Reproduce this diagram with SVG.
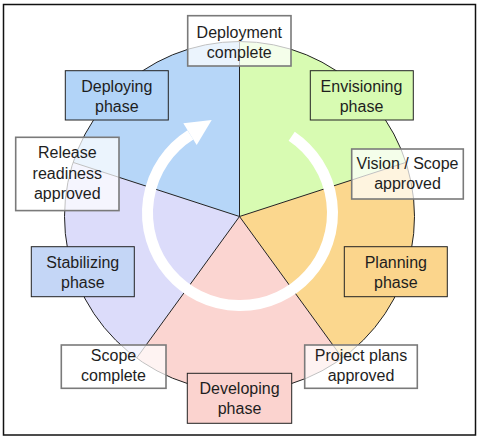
<svg xmlns="http://www.w3.org/2000/svg" width="479" height="439" viewBox="0 0 479 439">
<style>
  .sector { stroke: none; }
  .divider { stroke: #222; stroke-width: 1; fill: none; }
  .rim { stroke: #222; stroke-width: 1; fill: none; }
  .phase { stroke: #222; stroke-width: 1; }
  .milestone { fill: #ffffff; fill-opacity: 0.72; stroke: #7a7a7a; stroke-width: 1.6; }
  text { font-family: "Liberation Sans", Arial, sans-serif; font-size: 16px; fill: #1e1e1e; text-anchor: middle; }
</style>
<rect x="0" y="0" width="479" height="439" fill="#ffffff"/>
<rect x="3.5" y="4.5" width="472" height="430.5" fill="#ffffff" stroke="#111" stroke-width="1.5"/>

<g id="wheel">
  <path class="sector" fill="#d8fbb2" d="M239.5,216.5 L239.5,41.5 A175,175 0 0 1 405.9,162.4 Z"/>
  <path class="sector" fill="#fbd78e" d="M239.5,216.5 L405.9,162.4 A175,175 0 0 1 342.4,358.1 Z"/>
  <path class="sector" fill="#fbd5d1" d="M239.5,216.5 L342.4,358.1 A175,175 0 0 1 136.6,358.1 Z"/>
  <path class="sector" fill="#dcdcfa" d="M239.5,216.5 L136.6,358.1 A175,175 0 0 1 73.1,162.4 Z"/>
  <path class="sector" fill="#b6d6f8" d="M239.5,216.5 L73.1,162.4 A175,175 0 0 1 239.5,41.5 Z"/>
  <circle class="rim" cx="239.5" cy="216.5" r="175"/>
  <path class="divider" d="M239.5,216.5 L239.5,41.5 M239.5,216.5 L405.9,162.4 M239.5,216.5 L342.4,358.1 M239.5,216.5 L136.6,358.1 M239.5,216.5 L73.1,162.4"/>
</g>

<g id="connectors">
  <path d="M291.7,136.3 A92.5,92.5 0 1 1 190.4,134.9" fill="none" stroke="#ffffff" stroke-width="11"/>
  <polygon points="183.3,123.3 211.7,120 196.7,145" fill="#ffffff"/>
</g>

<g id="deployment-complete">
  <rect class="milestone" x="187.7" y="15.7" width="103.3" height="50.3"/>
  <text x="239.3" y="37.5">Deployment</text>
  <text x="239.3" y="57.5">complete</text>
</g>
<g id="deploying-phase">
  <rect class="phase" fill="#b2d4f8" x="65.3" y="70.7" width="103" height="49.3"/>
  <text x="116.8" y="91.5">Deploying</text>
  <text x="116.8" y="111.8">phase</text>
</g>
<g id="envisioning-phase">
  <rect class="phase" fill="#d8fbb2" x="310.3" y="70.7" width="103" height="49.3"/>
  <text x="361.5" y="91.5">Envisioning</text>
  <text x="361.5" y="111.8">phase</text>
</g>
<g id="release-readiness-approved">
  <rect class="milestone" x="15.7" y="137.3" width="103.3" height="73.3"/>
  <text x="67.3" y="158">Release</text>
  <text x="67.3" y="179">readiness</text>
  <text x="67.3" y="199">approved</text>
</g>
<g id="vision-scope-approved">
  <rect class="milestone" x="351.7" y="149" width="111.6" height="50"/>
  <text x="407.5" y="169">Vision / Scope</text>
  <text x="407.5" y="189">approved</text>
</g>
<g id="stabilizing-phase">
  <rect class="phase" fill="#c4d6f6" x="31.3" y="246.7" width="103" height="50"/>
  <text x="82.8" y="268">Stabilizing</text>
  <text x="82.8" y="288">phase</text>
</g>
<g id="planning-phase">
  <rect class="phase" fill="#fbd58c" x="344.3" y="246.7" width="103" height="50"/>
  <text x="395.8" y="268">Planning</text>
  <text x="395.8" y="288">phase</text>
</g>
<g id="scope-complete">
  <rect class="milestone" x="61.3" y="345" width="104.7" height="43.3"/>
  <text x="113.5" y="360.8">Scope</text>
  <text x="113.5" y="380.8">complete</text>
</g>
<g id="project-plans-approved">
  <rect class="milestone" x="304.7" y="345" width="112.6" height="43.3"/>
  <text x="361" y="360.8">Project plans</text>
  <text x="361" y="380.8">approved</text>
</g>
<g id="developing-phase">
  <rect class="phase" fill="#fbd3cf" x="187.3" y="373.3" width="104.4" height="50"/>
  <text x="239.5" y="394">Developing</text>
  <text x="239.5" y="414">phase</text>
</g>
</svg>
